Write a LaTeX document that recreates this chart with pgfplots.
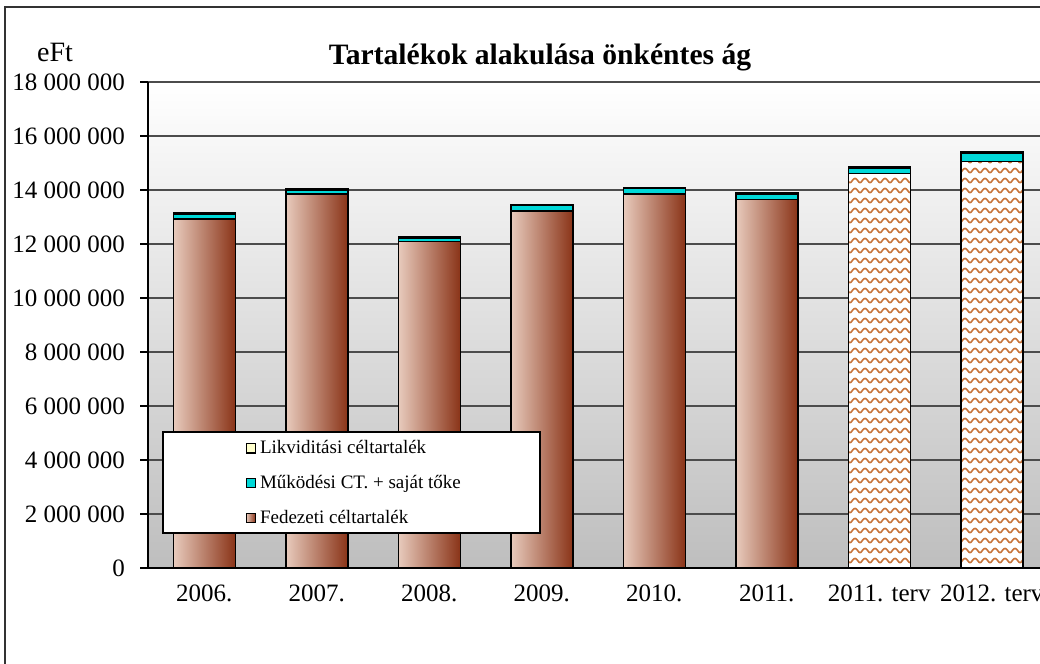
\documentclass[border=0pt]{standalone}
\usepackage{fontspec}
\setmainfont{Liberation Serif}
\usepackage{pgfplots}
\pgfplotsset{compat=1.18}
\usetikzlibrary{patterns}
\definecolor{fedL}{HTML}{E8CBBD}
\definecolor{fedM}{HTML}{C89C8C}
\definecolor{fedR}{HTML}{8A3418}
\definecolor{cyT}{HTML}{00D8D8}
\definecolor{likv}{HTML}{FFFFCC}
\definecolor{wavec}{HTML}{C8743A}
\definecolor{bggray}{HTML}{BEBEBE}
\pgfdeclarepatternformonly{wave}{\pgfpoint{-1pt}{-1pt}}{\pgfpoint{6pt}{6pt}}{\pgfpoint{5pt}{5pt}}{%
  \pgfsetlinewidth{0.8pt}%
  \pgfpathmoveto{\pgfpoint{0pt}{0.6pt}}%
  \pgfpathcurveto{\pgfpoint{0.7pt}{0.6pt}}{\pgfpoint{1.5pt}{2.8pt}}{\pgfpoint{2.5pt}{2.8pt}}%
  \pgfpathcurveto{\pgfpoint{3.5pt}{2.8pt}}{\pgfpoint{4.3pt}{0.6pt}}{\pgfpoint{5pt}{0.6pt}}%
  \pgfusepath{stroke}%
}
\begin{document}
\begin{tikzpicture}
\begin{axis}[
  set layers,
  at={(74pt,48pt)}, anchor=south west,
  scale only axis, width=450pt, height=243pt,
  ybar, bar width=31pt,
  xmin=-0.5, xmax=7.5, ymin=0, ymax=18000000,
  axis lines*=left, axis line style={black, line width=0.8pt, -},
  axis background/.style={shade, top color=white, bottom color=bggray},
  xtick={0,...,7},
  xticklabels={2006., 2007., 2008., 2009., 2010., 2011., 2011. terv, 2012. terv},
  major x tick style={draw=none},
  extra x ticks={-0.5,0.5,1.5,2.5,3.5,4.5,5.5,6.5,7.5},
  extra x tick labels={},
  extra x tick style={major tick length=4pt, tick style={black, line width=0.8pt}, grid=none},
  ytick={0,2000000,...,18000000},
  scaled y ticks=false,
  yticklabels={0,2 000 000,4 000 000,6 000 000,8 000 000,10 000 000,12 000 000,14 000 000,16 000 000,18 000 000},
  tick align=outside, major tick length=4pt,
  y tick style={black, line width=0.8pt},
  ymajorgrids, major grid style={black!70, line width=0.8pt},
  tick label style={font=\fontsize{12.5}{14}\selectfont},
  yticklabel style={xshift=-4pt},
  xticklabel style={yshift=-1pt},
  legend cell align=left,
  legend style={at={(axis description cs:0.108,0.272)}, anchor=north west, draw=none, fill=none,
    font=\fontsize{9.5}{10}\selectfont, row sep=5.3pt, inner sep=0pt},
  legend image code/.code={\draw[#1, line width=0.6pt] (0pt,-2.3pt) rectangle (4.6pt,2.3pt);},
  every axis plot/.append style={bar shift=0pt, draw=black, line width=0.75pt},
]
% Likviditási céltartalék (top layer, drawn at stack total = Fedezeti + Működési + Likviditási)
\addplot[fill=likv, bar shift=0pt]
 coordinates {(0,13150000) (1,14050000) (2,12270000) (3,13470000) (4,14100000) (5,13910000) (6,14870000) (7,15400000)};
\addlegendentry{Likviditási céltartalék}
% Működési CT. + saját tőke (drawn at Fedezeti + Működési)
\addplot[fill=cyT, bar shift=0pt]
 coordinates {(0,13100000) (1,14000000) (2,12220000) (3,13420000) (4,14050000) (5,13860000) (6,14820000) (7,15350000)};
\addlegendentry{Működési CT. + saját tőke}
% Fedezeti céltartalék
\addplot[left color=fedL, middle color=fedM, right color=fedR, bar shift=0pt] coordinates {(0,12930000)};
\addlegendentry{Fedezeti céltartalék}
\addplot[left color=fedL, middle color=fedM, right color=fedR, bar shift=0pt, forget plot] coordinates {(1,13850000)};
\addplot[left color=fedL, middle color=fedM, right color=fedR, bar shift=0pt, forget plot] coordinates {(2,12100000)};
\addplot[left color=fedL, middle color=fedM, right color=fedR, bar shift=0pt, forget plot] coordinates {(3,13220000)};
\addplot[left color=fedL, middle color=fedM, right color=fedR, bar shift=0pt, forget plot] coordinates {(4,13850000)};
\addplot[left color=fedL, middle color=fedM, right color=fedR, bar shift=0pt, forget plot] coordinates {(5,13640000)};
\addplot[fill=white, postaction={pattern=wave, pattern color=wavec}, bar shift=0pt, forget plot]
 coordinates {(6,14620000) (7,15050000)};
\begin{pgfonlayer}{axis descriptions}
\draw[black, line width=0.8pt, fill=white] (axis description cs:0.0167,0.072) rectangle (axis description cs:0.4356,0.28);
\end{pgfonlayer}
\end{axis}
\node[font=\bfseries\fontsize{14.8}{16}\selectfont] at (270pt,303.5pt) {Tartalékok alakulása önkéntes ág};
\node[font=\fontsize{14}{15}\selectfont] at (27.5pt,306pt) {eFt};
\draw[black!80, line width=0.6pt] (2.5pt,-10pt) rectangle (560pt,328.5pt);
\pgfresetboundingbox
\path[use as bounding box] (0,0) rectangle (520pt,332pt);
\end{tikzpicture}
\end{document}
